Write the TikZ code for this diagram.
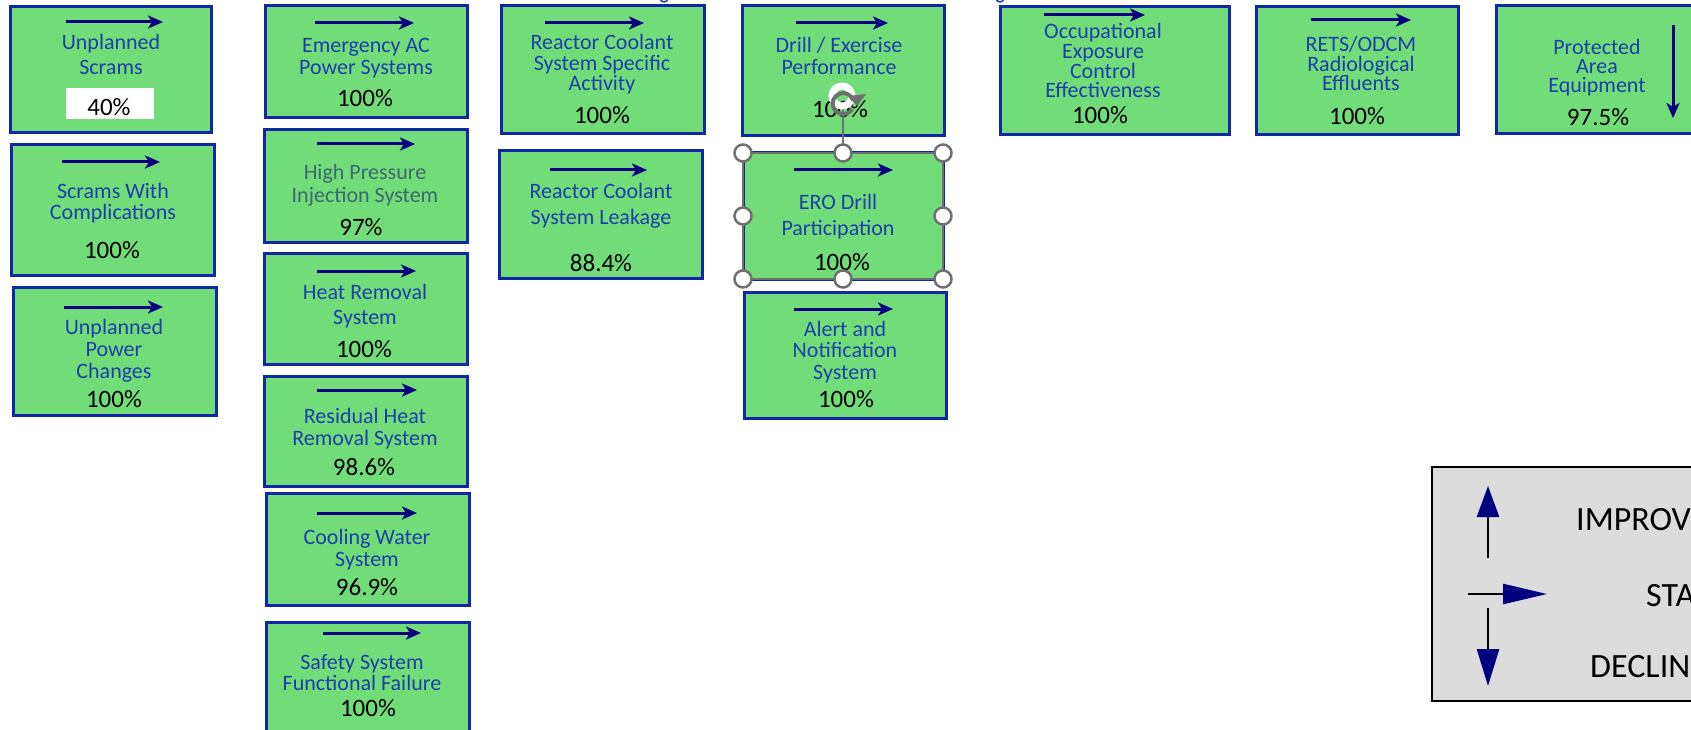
\documentclass[tikz,border=0pt]{standalone}
\usepackage{fontspec}
\setmainfont{Carlito}
\usetikzlibrary{arrows.meta}
\definecolor{kpigreen}{RGB}{114,221,120}
\definecolor{kpiborder}{RGB}{16,40,165}
\definecolor{kpitext}{RGB}{30,62,170}
\definecolor{kpigray}{RGB}{62,104,112}
\definecolor{trendnavy}{RGB}{0,0,128}
\definecolor{legendgray}{RGB}{220,220,220}
\definecolor{handlegray}{RGB}{112,112,112}
\tikzset{
  kpibox/.style={draw=kpiborder, fill=kpigreen, line width=3pt, inner sep=0pt},
  ttl/.style={inner sep=0pt, align=center, text=kpitext, anchor=base, font=\fontsize{22}{#1}\selectfont},
  pct/.style={inner sep=0pt, anchor=base, font=\fontsize{25}{26}\selectfont},
  trend/.style={draw=trendnavy, line width=3pt, -{Stealth[length=15pt,width=13pt,inset=4pt]}},
  handle/.style={draw=handlegray, fill=white, line width=2.5pt},
  legarrow/.style={draw=black, line width=2.5pt},
  legtext/.style={inner sep=0pt, anchor=base west, font=\fontsize{34}{34}\selectfont},
}
\newcommand\kbox[5]{\node[kpibox, minimum width={#4-#2}, minimum height={#5-#3}] (#1) at ({(#2+#4)/2},{(#3+#5)/2}) {};}
\begin{document}
\begin{tikzpicture}[x=1pt,y=-1pt]
\useasboundingbox[fill=white] (0,0) rectangle (1691,730);

% fragments of a cut-off title at the top edge
\draw[kpitext, line width=1.5pt] (664,-2) circle (4);
\draw[kpitext, line width=1.5pt] (1000,-2) circle (4);

% ---- column 1
\kbox{A}{10}{7}{211}{133}
\draw[trend] (66,22) -- (163,22);
\node[ttl=25] (A-t) at (111,75) {Unplanned\\Scrams};
\node[fill=white, minimum width=88, minimum height=31, inner sep=0pt] (A-w) at (110,103.5) {};
\node[pct] (A-p) at (109,116) {40\%};

\kbox{B}{11}{145}{214}{275}
\draw[trend] (62,162) -- (160,162);
\node[ttl=21] (B-t) at (113,219) {Scrams With\\Complications};
\node[pct] (B-p) at (112,258) {100\%};

\kbox{C}{13}{287}{216}{415}
\draw[trend] (64,307) -- (163,307);
\node[ttl=22] (C-t) at (114,378) {Unplanned\\Power\\Changes};
\node[pct] (C-p) at (114,407) {100\%};

% ---- column 2
\kbox{D}{265}{6}{467}{118}
\draw[trend] (315,23) -- (414,23);
\node[ttl=22] (D-t) at (366,75) {Emergency AC\\Power Systems};
\node[pct] (D-p) at (365,107) {100\%};

\kbox{E}{264}{130}{467}{242}
\draw[trend] (317,144) -- (415,144);
\node[ttl=23, text=kpigray] (E-t) at (365,203) {High Pressure\\Injection System};
\node[pct] (E-p) at (361,235) {97\%};

\kbox{F}{264}{253}{467}{364}
\draw[trend] (317,271) -- (416,271);
\node[ttl=25] (F-t) at (365,324) {Heat Removal\\System};
\node[pct] (F-p) at (364,357) {100\%};

\kbox{G}{264}{376}{467}{486}
\draw[trend] (317,390) -- (417,390);
\node[ttl=22] (G-t) at (365,445) {Residual Heat\\Removal System};
\node[pct] (G-p) at (364,475) {98.6\%};

\kbox{H}{266}{493}{469}{605}
\draw[trend] (317,513) -- (417,513);
\node[ttl=22] (H-t) at (367,566) {Cooling Water\\System};
\node[pct] (H-p) at (367,595) {96.9\%};

\kbox{I}{266}{622}{469}{760}
\draw[trend] (323,633) -- (421,633);
\node[ttl=21] (I-t) at (362,690) {Safety System\\Functional Failure};
\node[pct] (I-p) at (368,716) {100\%};

% ---- column 3
\kbox{J}{501}{6}{704}{134}
\draw[trend] (545,23) -- (644,23);
\node[ttl=20.5] (J-t) at (602,91) {Reactor Coolant\\System Specific\\Activity};
\node[pct] (J-p) at (602,124) {100\%};

\kbox{K}{499}{151}{702}{278}
\draw[trend] (550,170) -- (647,170);
\node[ttl=25] (K-t) at (601,224) {Reactor Coolant\\System Leakage};
\node[pct] (K-p) at (601,271) {88.4\%};

% ---- column 4
\kbox{L}{742}{6}{944}{136}
\draw[trend] (796,23) -- (888,23);
\node[ttl=22] (L-t) at (839,75) {Drill / Exercise\\Performance};
\node[pct] (L-p) at (840,118) {100\%};

\kbox{M}{743}{153}{943}{279}
\draw[draw=handlegray, line width=2pt] (743,153) rectangle (943,279);
\draw[trend] (794,170) -- (893,170);
\node[ttl=26] (M-t) at (838,235) {ERO Drill\\Participation};
\node[pct] (M-p) at (842,270) {100\%};

\kbox{N}{744}{292}{946}{418}
\draw[trend] (794,309) -- (893,309);
\node[ttl=21.5] (N-t) at (845,379) {Alert and\\Notification\\System};
\node[pct] (N-p) at (846,407) {100\%};

% ---- columns 5-7
\kbox{O}{1000}{7}{1229}{135}
\draw[trend] (1044,15) -- (1145,15);
\node[ttl=19.7] (O-t) at (1103,98) {Occupational\\Exposure\\Control\\Effectiveness};
\node[pct] (O-p) at (1100,124) {100\%};

\kbox{P}{1256}{7}{1458}{135}
\draw[trend] (1311,20) -- (1411,20);
\node[ttl=19.5] (P-t) at (1361,91) {RETS/ODCM\\Radiological\\Effluents};
\node[pct] (P-p) at (1357,125) {100\%};

\kbox{Q}{1496}{6}{1700}{134}
\draw[trend] (1673,25) -- (1673,118);
\node[ttl=19] (Q-t) at (1597,93) {Protected\\Area\\Equipment};
\node[pct] (Q-p) at (1598,126) {97.5\%};

% ---- selection handles on the ERO Drill box
\coordinate (rot) at (842,96);
\draw[handlegray, line width=2pt] (843,108) -- (843,145);
\draw[white, line width=7pt] (rot) circle (10);
\draw[handlegray, line width=4pt] (853,100) arc[start angle=-20, end angle=-330, radius=10.5];
\fill[handlegray] (848,96) -- (866,94) -- (857,106) -- cycle;
\foreach \p in {(743,153),(843,153),(943,153),(743,216),(943,216),(743,279),(843,279),(943,279)}
  \draw[handle] \p circle (8.5);

% ---- legend
\node[draw=black, fill=legendgray, line width=2.5pt, minimum width=280, minimum height=234, inner sep=0pt] (legend) at (1572,584) {};
\coordinate (up0) at (1488,558);   \coordinate (up1) at (1488,486);
\coordinate (st0) at (1468,594);   \coordinate (st1) at (1547,594);
\coordinate (dn0) at (1488,608);   \coordinate (dn1) at (1488,686);
\draw[legarrow, -{Triangle[color=trendnavy,length=31pt,width=22pt]}] (up0) -- (up1);
\draw[legarrow, -{Triangle[color=trendnavy,length=44pt,width=20pt]}] (st0) -- (st1);
\draw[legarrow, -{Triangle[color=trendnavy,length=37pt,width=22pt]}] (dn0) -- (dn1);
\node[legtext] (imp) at (1576,530) {IMPROVING};
\node[legtext] (sta) at (1646,606) {STABLE};
\node[legtext] (dec) at (1590,677) {DECLINING};
\end{tikzpicture}
\end{document}
